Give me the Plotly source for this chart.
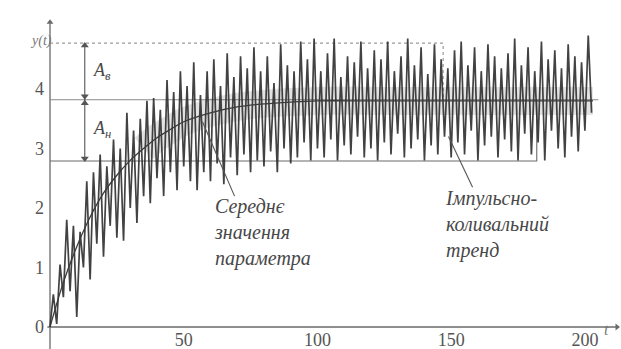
import plotly.graph_objects as go

# Pulse-oscillating trend: alternating local maxima and minima of the parameter
half_step = 1.25  # time between neighbouring extremes
peaks = [0.55, 1.05, 1.8, 1.7, 1.6, 2.45, 2.6, 2.9, 2.7, 3.15,
         3.0, 3.6, 3.3, 3.5, 3.8, 3.85, 3.65, 4.15, 3.95, 4.3,
         4.05, 4.45, 3.9, 4.3, 4.5, 4.05, 4.6, 4.2, 4.55, 4.35,
         4.7, 4.3, 4.55, 4.1, 4.75, 4.4, 4.3, 4.8, 4.5, 4.85,
         4.3, 4.6, 4.85, 4.2, 4.55, 4.45, 4.8, 4.35, 4.65, 4.5,
         4.8, 4.3, 4.55, 4.85, 4.4, 4.7, 4.25, 4.75, 4.5, 4.35,
         4.65, 4.8, 4.4, 4.7, 4.3, 4.75, 4.55, 4.35, 4.6, 4.85,
         4.4, 4.7, 4.3, 4.8, 4.5, 4.65, 4.35, 4.75, 4.55, 4.45,
         4.9]
troughs = [0.05, 0.5, 0.6, 0.17, 1.0, 0.8, 1.4, 1.18, 1.7, 1.5,
           1.45, 2.0, 1.75, 2.2, 2.08, 2.5, 2.2, 2.6, 2.3, 2.7,
           2.45, 2.3, 2.6, 2.45, 2.75, 2.4, 2.85, 2.55, 2.9, 2.6,
           2.8, 2.7, 2.95, 2.6, 3.0, 2.75, 2.85, 3.1, 2.8, 3.0,
           2.85, 3.15, 2.8, 3.05, 2.9, 3.2, 2.85, 3.0, 2.8, 3.1,
           2.9, 3.25, 2.85, 3.0, 3.15, 2.8, 3.05, 2.9, 3.2, 2.85,
           3.1, 2.9, 3.3, 2.8, 3.05, 3.2, 2.85, 3.15, 2.95, 2.8,
           3.25, 2.9, 3.1, 2.8, 3.3, 3.0, 2.85, 3.2, 2.95, 3.3,
           3.6]

# Mean value of the parameter
mean_t = [0, 5, 10, 15, 20, 25, 30, 35, 40, 45, 50, 60, 70, 80, 90, 100, 120, 140, 160, 180, 203]
mean_y = [0, 0.75, 1.35, 1.85, 2.25, 2.55, 2.8, 3.0, 3.18, 3.32, 3.45, 3.6, 3.7, 3.75, 3.78, 3.8,
          3.8, 3.8, 3.8, 3.8, 3.8]
band_from = 7  # the dense grey band is visible from t = 35 on

# Reference levels
level_top = 4.77
level_mid = 3.82
level_bot = 2.79
top_end = 147
bot_end = 182
mid_end = 205
amp_t = 13

x_ticks = [50, 100, 150, 200]
y_ticks = [0, 1, 2, 3, 4]

sig_t = [0.0]
sig_y = [0.0]
for i in range(len(peaks)):
    sig_t.append(half_step + 2 * half_step * i)
    sig_y.append(peaks[i])
    sig_t.append(2 * half_step + 2 * half_step * i)
    sig_y.append(troughs[i])

SERIF = "Liberation Serif"
TXT = "#484848"
AX = "#6a6a6a"


def line(x, y, color, width, dash="solid", shape="linear"):
    return go.Scatter(x=x, y=y, mode="lines", line=dict(color=color, width=width, dash=dash),
                      line_shape=shape, hoverinfo="skip")


def pointer(x, y, symbol, color="#555", size=7):
    return go.Scatter(x=[x], y=[y], mode="markers", hoverinfo="skip",
                      marker=dict(symbol=symbol, size=size, color=color))


fig = go.Figure()

# axes with arrowheads
fig.add_trace(line([0, 0], [-0.37, 5.12], AX, 1.3))
fig.add_trace(pointer(0, 5.12, "triangle-up", AX, 6))
fig.add_trace(line([-1, 212], [0, 0], AX, 1.3))
fig.add_trace(pointer(212, 0, "triangle-right", AX, 6))

# reference levels
fig.add_trace(line([0, top_end, top_end], [level_top, level_top, level_mid], "#9a9a9a", 1.2, "dot"))
fig.add_trace(line([0, mid_end], [level_mid, level_mid], "#8a8a8a", 1.1))
fig.add_trace(line([0, bot_end, bot_end], [level_bot, level_bot, level_mid], "#6a6a6a", 1.1))

# grey band of dense oscillation around the mean
fig.add_trace(line(mean_t[band_from:], mean_y[band_from:], "rgba(0,0,0,0.11)", 28, shape="spline"))
# oscillating signal
fig.add_trace(line(sig_t, sig_y, "rgba(45,45,45,0.9)", 1.7))
# mean value curve
fig.add_trace(line(mean_t, mean_y, "#3a3a3a", 1.3, shape="spline"))

# amplitude double arrows
fig.add_trace(line([amp_t, amp_t], [level_bot, level_top], "#555", 1.1))
fig.add_trace(pointer(amp_t, level_top - 0.04, "triangle-up"))
fig.add_trace(pointer(amp_t, level_mid + 0.06, "triangle-down"))
fig.add_trace(pointer(amp_t, level_mid - 0.06, "triangle-up"))
fig.add_trace(pointer(amp_t, level_bot + 0.04, "triangle-down"))

# leaders to captions
fig.add_trace(line([57, 69], [3.45, 2.2], "#555", 1.1))
fig.add_trace(line([149, 158], [3.2, 2.35], "#555", 1.1))

ann = [
    dict(x=amp_t + 2.2, y=4.3, text="<i>A</i><sub><i>в</i></sub>"),
    dict(x=amp_t + 2.2, y=3.32, text="<i>A</i><sub><i>н</i></sub>"),
]
for a in ann:
    a.update(xref="x", yref="y", showarrow=False, xanchor="left",
             font=dict(family=SERIF, size=18, color=TXT))

ann.append(dict(x=60.5, y=2.25, xref="x", yref="y", showarrow=False, xanchor="left",
                yanchor="top", align="left",
                text="<i>Середнє<br>значення<br>параметра</i>",
                font=dict(family=SERIF, size=20, color=TXT)))
ann.append(dict(x=147, y=2.38, xref="x", yref="y", showarrow=False, xanchor="left",
                yanchor="top", align="left",
                text="<i>Імпульсно-<br>коливальний<br>тренд</i>",
                font=dict(family=SERIF, size=20, color=TXT)))

# axis names
ann.append(dict(x=28 / 621, y=1 - 31 / 349, xref="paper", yref="paper", showarrow=False,
                text="<i>y(t)</i>", font=dict(family=SERIF, size=14, color="#777")))
ann.append(dict(x=611 / 621, y=1 - 340 / 349, xref="paper", yref="paper", showarrow=False,
                text="<i>t</i>", font=dict(family=SERIF, size=16, color="#777")))

fig.update_layout(
    width=621, height=349,
    margin=dict(l=0, r=0, t=0, b=0),
    paper_bgcolor="white", plot_bgcolor="white",
    font=dict(family=SERIF),
    showlegend=False,
    annotations=ann,
    xaxis=dict(range=[-18.7, 213.5], domain=[0, 1], anchor="free", position=22 / 349,
               tickvals=x_ticks, ticks="", showgrid=False, zeroline=False, showline=False,
               tickfont=dict(family=SERIF, size=18, color="#555"), ticklabelstandoff=0),
    yaxis=dict(range=[-0.37, 5.496], domain=[0, 1], anchor="free", position=50 / 621,
               tickvals=y_ticks, ticks="", showgrid=False, zeroline=False, showline=False,
               tickfont=dict(family=SERIF, size=18, color="#555"), ticklabelstandoff=6),
)

fig.write_html("out.html")
